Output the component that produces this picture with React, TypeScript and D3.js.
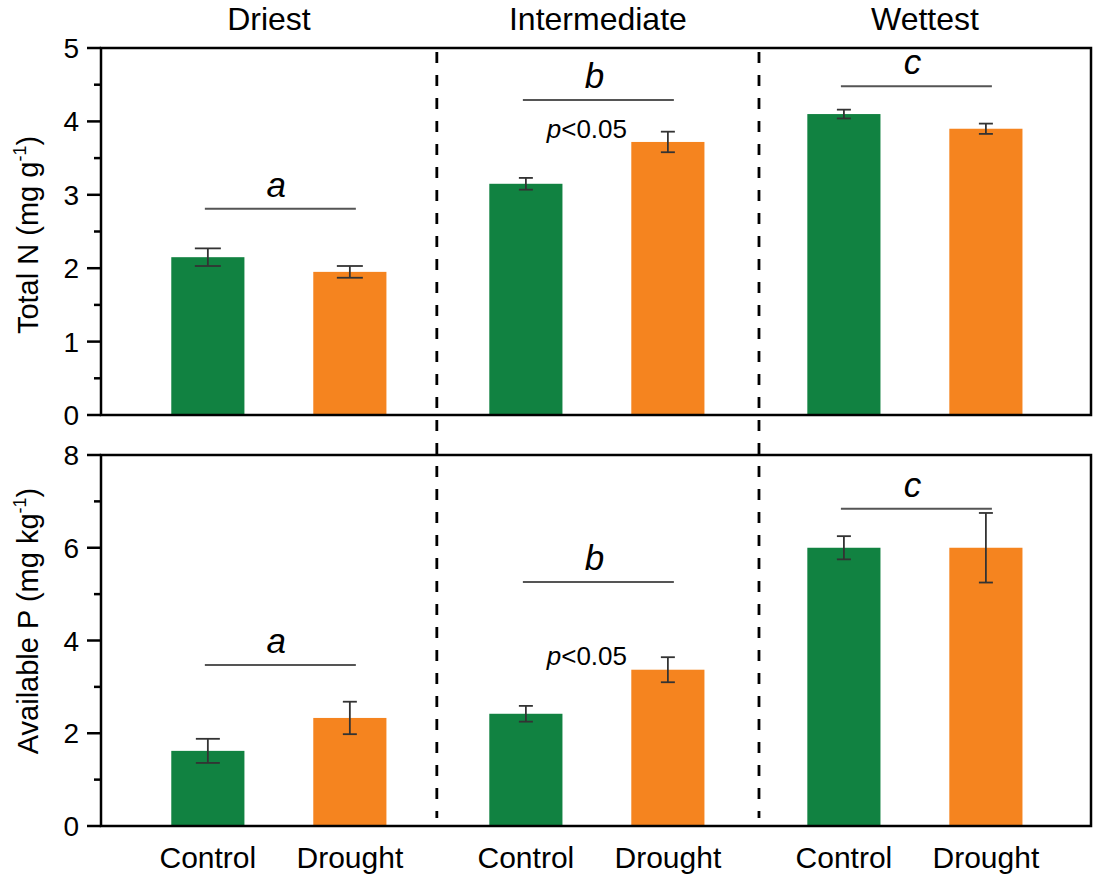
import { scaleLinear, range } from "d3";

// values
const sites = ["Driest", "Intermediate", "Wettest"];
const treatments = ["Control", "Drought"];
const nMean = [[2.15, 1.95], [3.15, 3.72], [4.1, 3.9]];
const nErr = [[0.12, 0.08], [0.08, 0.14], [0.06, 0.07]];
const pMean = [[1.62, 2.33], [2.42, 3.37], [6.0, 6.0]];
const pErr = [[0.26, 0.35], [0.17, 0.27], [0.25, 0.75]];
const letters = ["a", "b", "c"];
const nLineAt = [2.81, 4.29, 4.48];
const pLineAt = [3.47, 5.26, 6.84];
const nSigAt = 3.77;
const pSigAt = 3.47;

const GREEN = "#118241", ORANGE = "#f5841f";
const FONT = "'Liberation Sans', Arial, sans-serif";
const W = 1100, H = 881;
const L = 101, R = 1091;
const DROUGHT_OFF = 0.4465, BAR_W = 0.23;
const DIVIDERS = [0.72, 1.733];
const CAP = [[26, 26], [14, 14], [14, 14]];
const CAP_P = [[24, 14], [14, 14], [14, 14]];

const x = scaleLinear().domain([-0.336, 2.777]).range([L, R]);

function Panel({ top, bottom, max, major, minor, mean, err, lineAt, sigAt, caps, label, unit, labelY }:
  { top: number; bottom: number; max: number; major: number[]; minor: number[]; mean: number[][]; err: number[][];
    lineAt: number[]; sigAt: number; caps: number[][]; label: string; unit: string; labelY: number }) {
  const y = scaleLinear().domain([0, max]).range([bottom, top]);
  const bw = x(BAR_W) - x(0);
  return (
    <g>
      {sites.map((s, g) => treatments.map((t, k) => {
        const cx = x(g + k * DROUGHT_OFF);
        const v = mean[g][k], e = err[g][k], cw = caps[g][k] / 2;
        return (
          <g key={s + t}>
            <rect x={cx - bw / 2} y={y(v)} width={bw} height={bottom - y(v)} fill={k ? ORANGE : GREEN} />
            <line x1={cx} x2={cx} y1={y(v + e)} y2={y(v - e)} stroke="#333" strokeWidth={1.8} />
            <line x1={cx - cw} x2={cx + cw} y1={y(v + e)} y2={y(v + e)} stroke="#333" strokeWidth={1.8} />
            <line x1={cx - cw} x2={cx + cw} y1={y(v - e)} y2={y(v - e)} stroke="#333" strokeWidth={1.8} />
          </g>
        );
      }))}
      {letters.map((l, g) => {
        const x1 = x(g) - 3, x2 = x(g + DROUGHT_OFF) + 6;
        return (
          <g key={l}>
            <line x1={x1} x2={x2} y1={y(lineAt[g])} y2={y(lineAt[g])} stroke="#555" strokeWidth={2} />
            <text x={(x1 + x2) / 2 - 4} y={y(lineAt[g]) - 12} textAnchor="middle" fontSize={35}
              fontStyle="italic" fontFamily={FONT}>{l}</text>
          </g>
        );
      })}
      <text x={(x(1) + x(1 + DROUGHT_OFF)) / 2 - 10} y={y(sigAt)} textAnchor="middle" fontSize={26} fontFamily={FONT}>
        <tspan fontStyle="italic">p</tspan>&lt;0.05
      </text>
      <rect x={L} y={top} width={R - L} height={bottom - top} fill="none" stroke="#000" strokeWidth={2.5} />
      {major.map(t => (
        <g key={t}>
          <line x1={L - 14} x2={L} y1={y(t)} y2={y(t)} stroke="#000" strokeWidth={2.5} />
          <text x={79} y={y(t)} dy="0.36em" textAnchor="end" fontSize={28} fontFamily={FONT}>{t}</text>
        </g>
      ))}
      {minor.map(t => (
        <line key={t} x1={L - 7} x2={L} y1={y(t)} y2={y(t)} stroke="#000" strokeWidth={2.5} />
      ))}
      <text transform={`translate(38,${labelY}) rotate(-90)`} textAnchor="middle" fontSize={29} fontFamily={FONT}>
        {label} ({unit}<tspan dy={-12} fontSize={18}>-1</tspan><tspan dy={12}>)</tspan>
      </text>
    </g>
  );
}

export default function App() {
  const nTop = 48, nBottom = 415, pTop = 455, pBottom = 826;
  return (
    <svg width={W} height={H} style={{ position: "absolute", left: 0, top: 0, background: "#fff" }}>
      <rect width={W} height={H} fill="#fff" />
      {sites.map((s, g) => {
        const lo = g === 0 ? L : x(DIVIDERS[g - 1]);
        const hi = g === 2 ? R : x(DIVIDERS[g]);
        return (
          <text key={s} x={(lo + hi) / 2} y={30} textAnchor="middle" fontSize={32} fontFamily={FONT}>{s}</text>
        );
      })}
      <Panel top={nTop} bottom={nBottom} max={5} major={range(0, 6)} minor={range(0.5, 5, 1)}
        mean={nMean} err={nErr} lineAt={nLineAt} sigAt={nSigAt} caps={CAP} label="Total N" unit="mg g" labelY={235} />
      <Panel top={pTop} bottom={pBottom} max={8} major={range(0, 9, 2)} minor={range(1, 8, 2)}
        mean={pMean} err={pErr} lineAt={pLineAt} sigAt={pSigAt} caps={CAP_P} label="Available P" unit="mg kg" labelY={621} />
      {DIVIDERS.map(d => (
        <line key={d} x1={x(d)} x2={x(d)} y1={nTop + 4} y2={pBottom - 8} stroke="#000" strokeWidth={2.8}
          strokeDasharray="11,12" />
      ))}
      {sites.map((s, g) => treatments.map((t, k) => (
        <text key={s + t} x={x(g + k * DROUGHT_OFF)} y={868} textAnchor="middle" fontSize={30} fontFamily={FONT}>{t}</text>
      )))}
    </svg>
  );
}
